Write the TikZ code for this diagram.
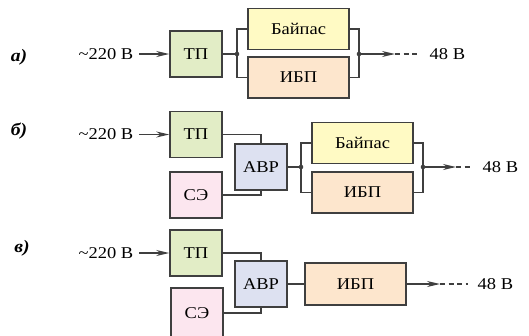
\documentclass[tikz,border=0pt]{standalone}
\usepackage{fontspec}
\setmainfont{Liberation Serif}[FakeStretch=1.12]
\usetikzlibrary{arrows.meta}
\definecolor{framegray}{HTML}{3F3F3F}
\definecolor{tpgreen}{HTML}{E2EDC6}
\definecolor{bypyellow}{HTML}{FFFAC4}
\definecolor{upspeach}{HTML}{FDE6CD}
\definecolor{avrblue}{HTML}{DDE1F1}
\definecolor{sepink}{HTML}{FCE6EF}
\begin{document}
\fontsize{16.5}{19}\selectfont
\begin{tikzpicture}[
	x=1pt,y=-1pt,
	blk/.style={draw=framegray,line width=1.5pt,inner sep=0pt,minimum width=52pt,minimum height=46pt},
	wide/.style={blk,minimum width=101pt,minimum height=41pt},
	wire/.style={framegray,line width=1.5pt},
	feed/.style={wire,-{Stealth[length=13pt,width=6pt]}},
	tail/.style={wire,dash pattern=on 5pt off 3.5pt,shorten >=4pt},
	lbl/.style={anchor=base,font=\fontsize{17.5}{20}\selectfont\bfseries\itshape},
	]
	\useasboundingbox (0,0) rectangle (529,335);
	
	% a)
	\node[lbl] (la) at (19,61) {а)};
	\node[anchor=east] (ina) at (139,54) {\textasciitilde220 В};
	\node[blk,fill=tpgreen] (tpa) at (196,54) {ТП};
	\node[wide,fill=bypyellow] (bpa) at (298.5,29) {Байпас};
	\node[wide,fill=upspeach] (upa) at (298.5,77.5) {ИБП};
	\coordinate (ja) at (237,54);
	\coordinate (ka) at (359,54);
	\coordinate (ea) at (395,54);
	\node[anchor=west] (outa) at (424,54) {48 В};
	\draw[feed] (ina) -- (tpa);
	\draw[wire] (tpa) -- (ja);
	\draw[wire] (bpa.west) -| (ja) |- (upa.west);
	\draw[wire] (bpa.east) -| (ka) |- (upa.east);
	\draw[feed] (ka) -- (ea);
	\draw[tail] (ea) -- (outa);
	\fill[framegray] (ja) circle (2.3pt) (ka) circle (2.3pt);
	
	% б)
	\node[lbl] (lb) at (19,135) {б)};
	\node[anchor=east] (inb) at (139,134.5) {\textasciitilde220 В};
	\node[blk,fill=tpgreen] (tpb) at (196,134.5) {ТП};
	\node[blk,fill=avrblue] (avb) at (261,167) {АВР};
	\node[blk,fill=sepink] (seb) at (196,195) {СЭ};
	\node[wide,fill=bypyellow] (bpb) at (362.5,143) {Байпас};
	\node[wide,fill=upspeach] (upb) at (362.5,192.5) {ИБП};
	\coordinate (jb) at (301,167);
	\coordinate (kb) at (423,167);
	\coordinate (eb) at (456,167);
	\node[anchor=west] (outb) at (477,167) {48 В};
	\draw[feed] (inb) -- (tpb);
	\draw[wire] (tpb.east) -| (avb.north);
	\draw[wire] (seb.east) -| (avb.south);
	\draw[wire] (avb) -- (jb);
	\draw[wire] (bpb.west) -| (jb) |- (upb.west);
	\draw[wire] (bpb.east) -| (kb) |- (upb.east);
	\draw[feed] (kb) -- (eb);
	\draw[tail] (eb) -- (outb);
	\fill[framegray] (jb) circle (2.3pt) (kb) circle (2.3pt);
	
	% в)
	\node[lbl] (lc) at (22,252) {в)};
	\node[anchor=east] (inc) at (139,253) {\textasciitilde220 В};
	\node[blk,fill=tpgreen] (tpc) at (196,253) {ТП};
	\node[blk,fill=avrblue] (avc) at (261,284) {АВР};
	\node[blk,fill=sepink,minimum height=50pt] (sec) at (197,313) {СЭ};
	\node[wide,fill=upspeach,minimum height=42pt] (upc) at (355.5,284) {ИБП};
	\coordinate (ec) at (440,284);
	\node[anchor=west] (outc) at (472,284) {48 В};
	\draw[feed] (inc) -- (tpc);
	\draw[wire] (tpc.east) -| (avc.north);
	\draw[wire] (sec.east) -| (avc.south);
	\draw[wire] (avc) -- (upc);
	\draw[feed] (upc) -- (ec);
	\draw[tail] (ec) -- (outc);
\end{tikzpicture}
\end{document}
